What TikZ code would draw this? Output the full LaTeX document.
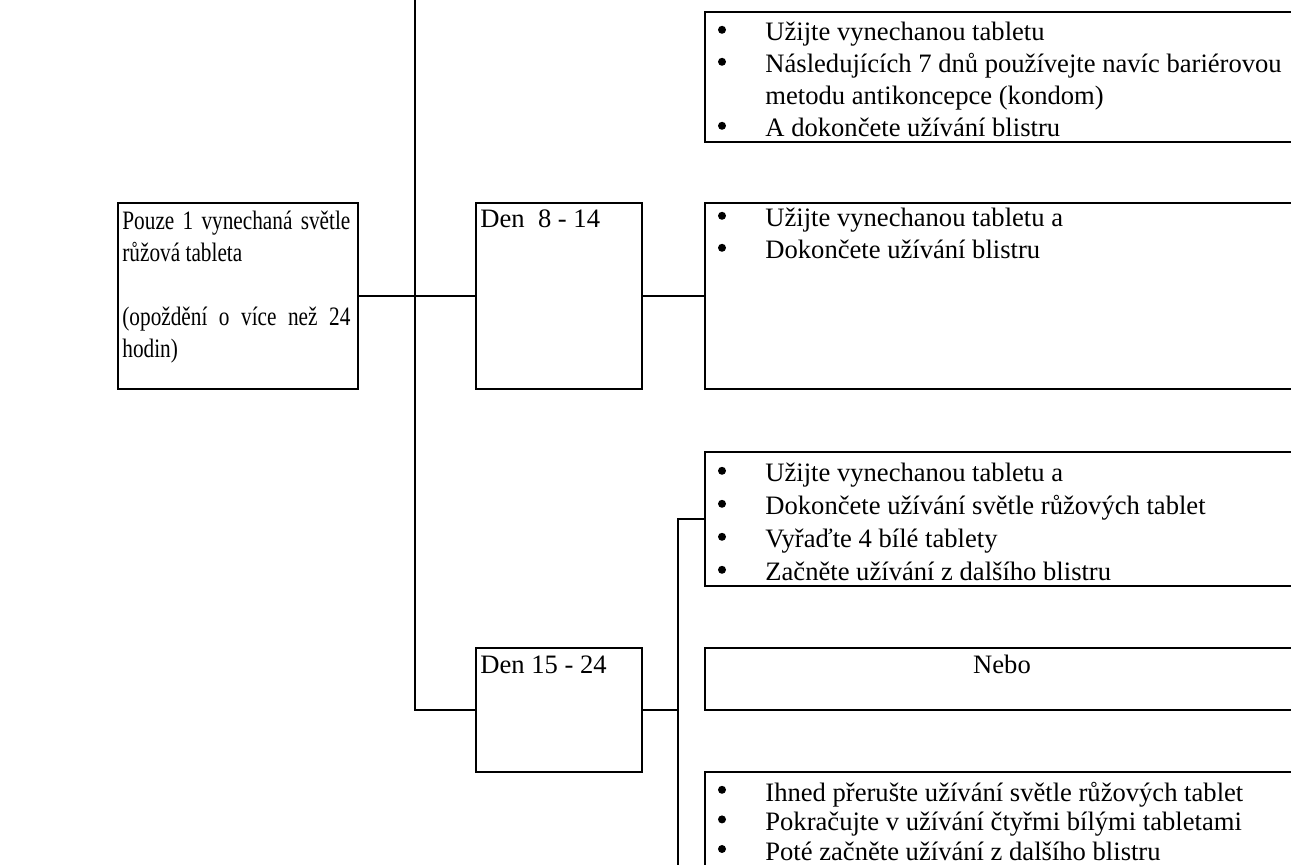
\documentclass[tikz,border=0pt]{standalone}
\usepackage{fontspec}
\setmainfont{Liberation Serif}
\newfontfamily\narrowfont[FakeStretch=0.8]{Liberation Serif}
\newcommand\bdot{\raisebox{3.6pt}{\tikz\fill (0,0) circle (2pt);}}
\newcommand\bitem[1]{\par\noindent\hangindent=24pt\hangafter=1\makebox[24pt][l]{\hspace{0.3pt}\bdot}#1}
\begin{document}
\begin{tikzpicture}[x=0.5pt,y=-0.5pt,
  box/.style={draw, line width=1.2pt, rectangle, inner sep=0pt, outer sep=0pt, anchor=north west},
  conn/.style={line width=1.2pt},
  txt/.style={inner sep=0pt, anchor=base west, font=\fontsize{13.3}{16}\selectfont}]
\useasboundingbox (0,0) rectangle (1291,865);
\clip (0,0) rectangle (1291,865);

% boxes
\node[box, minimum width=120pt, minimum height=93pt] (left) at (118,203) {};
\node[box, minimum width=83pt, minimum height=93pt] (den1) at (476,203) {};
\node[box, minimum width=297pt, minimum height=65pt] (r1) at (705,12) {};
\node[box, minimum width=297pt, minimum height=93pt] (r2) at (705,203) {};
\node[box, minimum width=297pt, minimum height=67pt] (r3) at (705,452) {};
\node[box, minimum width=297pt, minimum height=31pt] (nebo) at (705,648) {};
\node[box, minimum width=83pt, minimum height=62pt] (den2) at (476,648) {};
\node[box, minimum width=297pt, minimum height=110pt] (r4) at (705,772) {};

% texts
\node[txt] (tleft) at (122,230) {\parbox[t]{114pt}{\narrowfont\fontsize{13.3}{16}\selectfont
  \hyphenpenalty=10000 \exhyphenpenalty=10000 \tolerance=9999
  Pouze 1 vynechaná světle růžová tableta\par\vspace{16pt}(opoždění o více než 24 hodin)}};
\node[txt] (tden1) at (480,228) {Den\ \ 8 - 14};
\node[txt] (tden2) at (480,674) {Den 15 - 24};
\node[txt, anchor=base] (tnebo) at (1002,674) {Nebo};

\node[txt] (t1) at (717,41) {\parbox[t]{300pt}{\raggedright
  \bitem{Užijte vynechanou tabletu}
  \bitem{Následujících 7 dnů používejte navíc bariérovou\hfil\break metodu antikoncepce (kondom)}
  \bitem{A dokončete užívání blistru}}};
\node[txt] (t2) at (717,227) {\parbox[t]{300pt}{\raggedright
  \bitem{Užijte vynechanou tabletu a}
  \bitem{Dokončete užívání blistru}}};
\node[txt, font=\fontsize{13.3}{16.5}\selectfont] (t3) at (717,482) {\parbox[t]{300pt}{\raggedright
  \bitem{Užijte vynechanou tabletu a}
  \bitem{Dokončete užívání světle růžových tablet}
  \bitem{Vyřaďte 4 bílé tablety}
  \bitem{Začněte užívání z dalšího blistru}}};
\node[txt, font=\fontsize{13.3}{14.8}\selectfont] (t4) at (717,801) {\parbox[t]{300pt}{\raggedright
  \bitem{Ihned přerušte užívání světle růžových tablet}
  \bitem{Pokračujte v užívání čtyřmi bílými tabletami}
  \bitem{Poté začněte užívání z dalšího blistru}}};

% connectors
\coordinate (ttop) at (415,-5);
\coordinate (vj) at (678,0);
\draw[conn] (ttop) |- (den2.west);
\draw[conn] (left.east) -- (den1.west);
\draw[conn] (den1.east) -- (r2.west);
\draw[conn] (r3.west) -| (vj |- r4.west) -- (r4.west);
\draw[conn] (den2.east) -- (den2.east -| vj);
\end{tikzpicture}
\end{document}
